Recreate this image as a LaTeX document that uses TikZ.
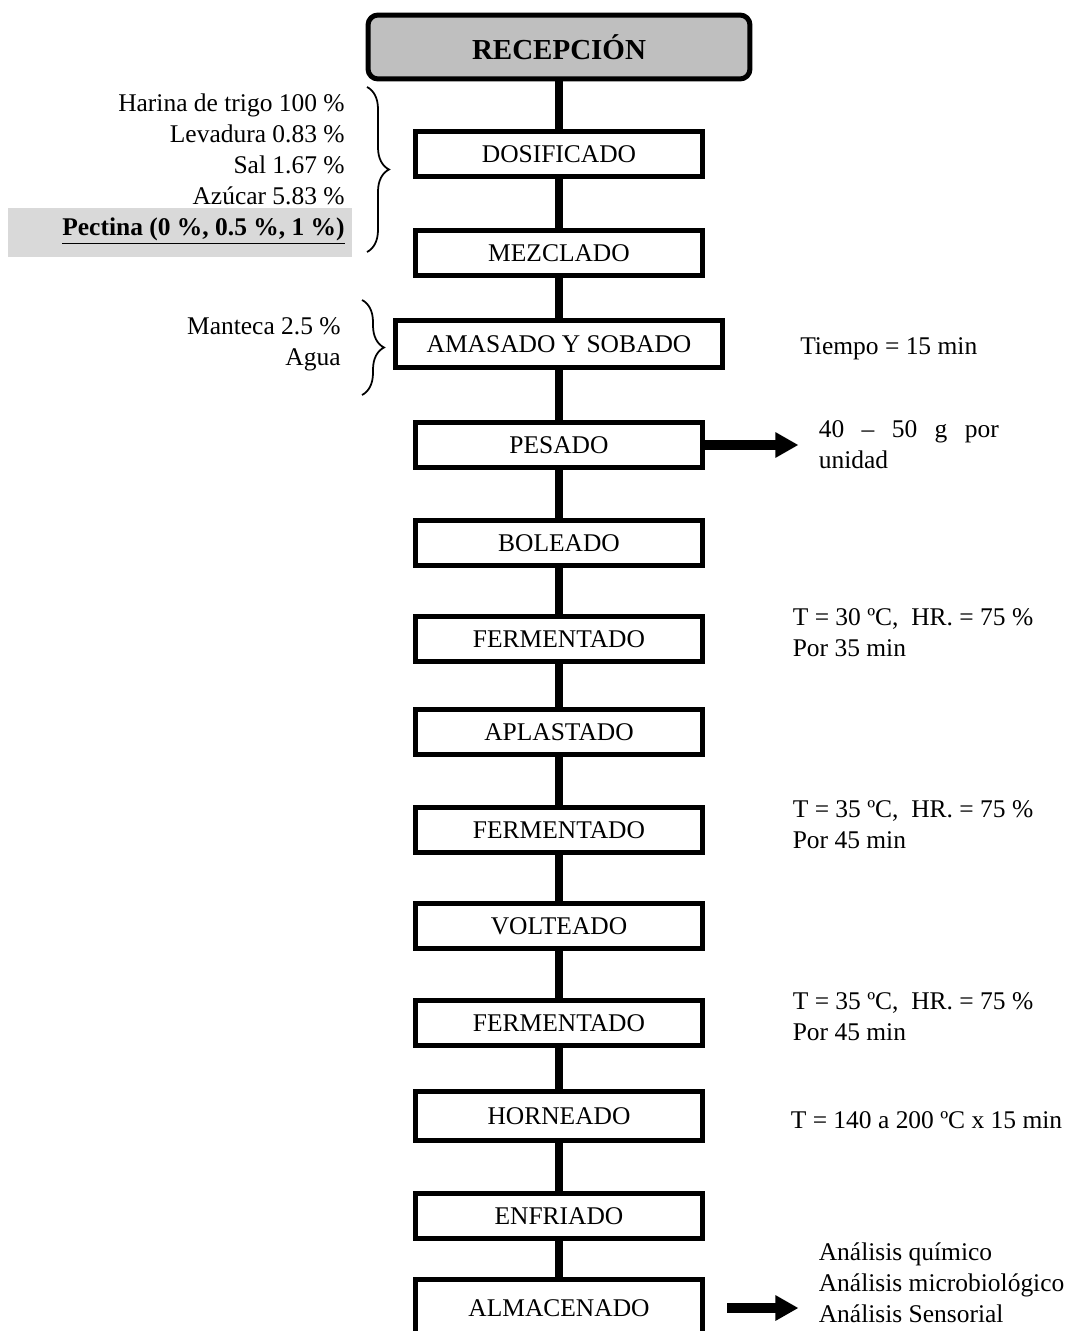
\documentclass[tikz,border=0pt]{standalone}
\usepackage{fontspec}
\setmainfont{Liberation Serif}
\usetikzlibrary{positioning,arrows.meta,decorations.pathreplacing}

\begin{document}
\begin{tikzpicture}[
    x=0.02cm, y=-0.02cm,
    font=\fontsize{14.5pt}{17.6pt}\selectfont,
    proceso_box/.style={rectangle, draw, line width=0.1cm, fill=white, minimum width=5.76cm, minimum height=0.9cm, inner sep=0pt},
    inicio_box/.style={rectangle, draw, rounded corners=0.2cm, line width=0.1cm, fill=gray!50, minimum width=7.64cm, minimum height=1.28cm, font=\fontsize{16.5pt}{20pt}\selectfont\bfseries},
    conector/.style={line width=0.16cm},
    flecha/.style={line width=0.2cm, -{Triangle[length=0.46cm, width=0.48cm]}},
    llave/.style={decorate, decoration={brace, amplitude=0.44cm}, line width=1pt},
    nota/.style={align=left, inner sep=0pt},
    insumo/.style={align=right, inner sep=0pt}
]
\useasboundingbox (0,0) rectangle (1078,1331);
\clip (0,0) rectangle (1078,1331);

% Main process chain
\node[inicio_box] (recepcion) at (559,47) {RECEPCIÓN};
\node[proceso_box] (dosificado) at (559,154) {DOSIFICADO};
\node[proceso_box] (mezclado) at (559,253) {MEZCLADO};
\node[proceso_box, minimum width=6.54cm, minimum height=0.94cm] (amasado) at (559,344) {AMASADO Y SOBADO};
\node[proceso_box] (pesado) at (559,445) {PESADO};
\node[proceso_box] (boleado) at (559,543) {BOLEADO};
\node[proceso_box] (fermentado1) at (559,639) {FERMENTADO};
\node[proceso_box] (aplastado) at (559,732) {APLASTADO};
\node[proceso_box] (fermentado2) at (559,830) {FERMENTADO};
\node[proceso_box] (volteado) at (559,926) {VOLTEADO};
\node[proceso_box] (fermentado3) at (559,1023) {FERMENTADO};
\node[proceso_box, minimum height=0.98cm] (horneado) at (559,1116) {HORNEADO};
\node[proceso_box] (enfriado) at (559,1216) {ENFRIADO};
\node[proceso_box, minimum height=1.16cm] (almacenado) at (559,1308) {ALMACENADO};
\draw[conector] (recepcion) -- (dosificado) -- (mezclado) -- (amasado) -- (pesado) -- (boleado) -- (fermentado1) -- (aplastado) -- (fermentado2) -- (volteado) -- (fermentado3) -- (horneado) -- (enfriado) -- (almacenado);

% Ingredients on the left
\fill[gray!30] (8,208) rectangle (352,257);
\node[insumo, anchor=east] (ingredientes) at (345,169) {Harina de trigo 100 \%\\ Levadura 0.83 \%\\ Sal 1.67 \%\\ Azúcar 5.83 \%\\ \textbf{\underline{Pectina (0 \%, 0.5 \%, 1 \%)}}};
\draw[llave] (367,87) -- (367,252);
\node[insumo, anchor=east] (grasa) at (341,344) {Manteca 2.5 \%\\ Agua};
\draw[llave] (362,300) -- (362,395);

% Conditions on the right
\node[nota, right=1.5cm of amasado, yshift=-0.1cm] (tiempo) {Tiempo = 15 min};
\node[nota, right=2.26cm of pesado] (peso) {\makebox[3.6cm][s]{40 – 50 g por}\\ unidad};
\draw[flecha, shorten >=0.4cm] (pesado) -- (peso.west |- pesado);
\node[nota, right=1.74cm of fermentado1, yshift=0.12cm] (cond1) {T = 30 ºC,~ HR. = 75 \%\\ Por 35 min};
\node[nota, right=1.74cm of fermentado2, yshift=0.1cm] (cond2) {T = 35 ºC,~ HR. = 75 \%\\ Por 45 min};
\node[nota, right=1.74cm of fermentado3, yshift=0.12cm] (cond3) {T = 35 ºC,~ HR. = 75 \%\\ Por 45 min};
\node[nota, right=1.7cm of horneado, yshift=-0.08cm] (horno) {T = 140 a 200 ºC x 15 min};
\node[nota, right=2.26cm of almacenado, yshift=0.5cm] (analisis) {Análisis químico\\ Análisis microbiológico\\ Análisis Sensorial};
\draw[flecha, shorten <=0.44cm, shorten >=0.4cm] (almacenado.east) -- (analisis.west |- almacenado.east);

\end{tikzpicture}
\end{document}
